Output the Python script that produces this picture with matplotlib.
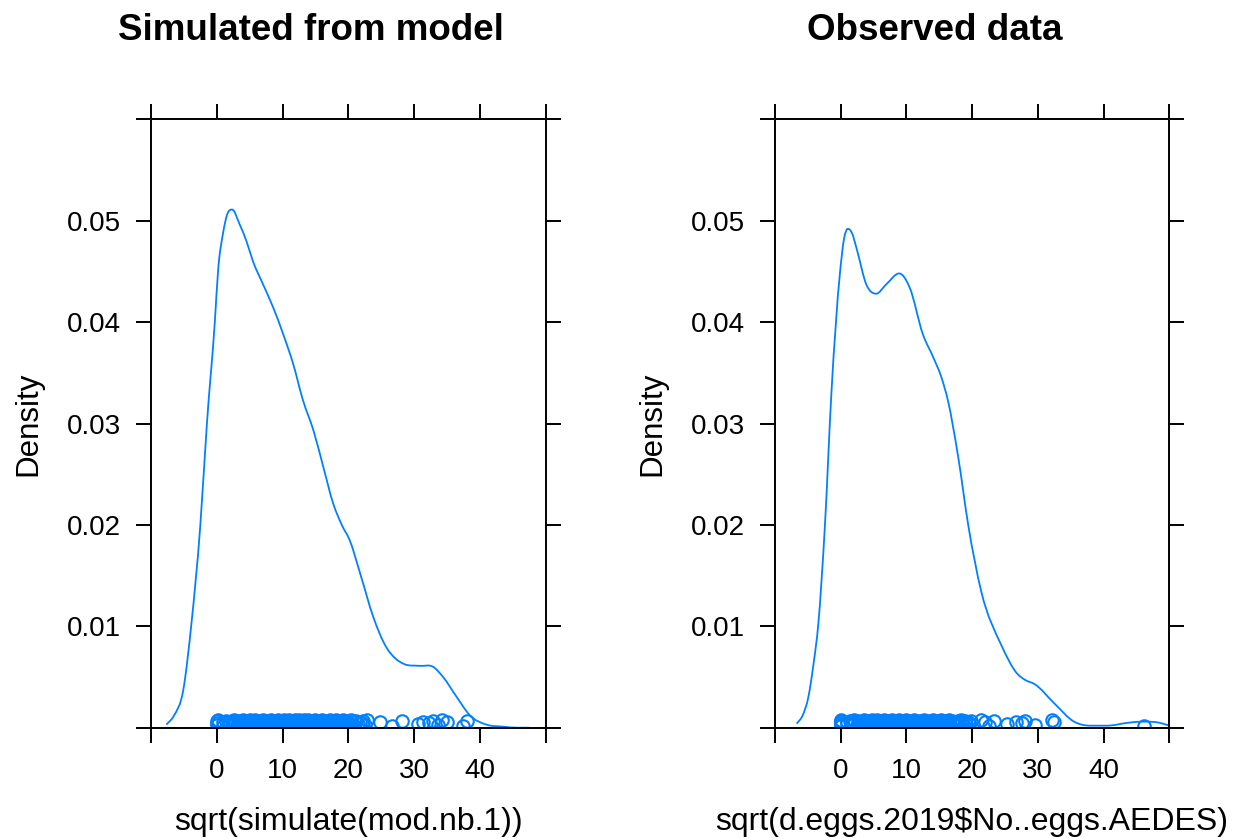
import matplotlib
matplotlib.use("Agg")
import matplotlib.pyplot as plt
from matplotlib.path import Path
from matplotlib.patches import PathPatch

plt.rcParams["font.family"] = ["Liberation Sans", "DejaVu Sans"]

# ---------------- data ----------------
sim_curve_x = [-7.66, -6.5, -5.1, -3.85, -2.5, -1.5, -0.3, 0.2, 0.96, 1.57,
               2.33, 3.5, 4.5, 5.5, 7.05, 8.6, 10.1, 11.6, 13.1, 14.7, 16.2, 17.7,
               19.0, 20.2, 21.8, 23.8, 25.8, 27.2, 28.4, 30.9, 32.9, 34.4, 36.5,
               38.5, 41.0, 43.6, 45.6, 47.5]
sim_curve_y = [0.0003, 0.0012, 0.0037, 0.0103, 0.0200, 0.0300, 0.0400, 0.0451,
               0.0488, 0.0506, 0.0511, 0.0496, 0.0480, 0.0460, 0.0437, 0.0414, 0.0388,
               0.0359, 0.0323, 0.0293, 0.0257, 0.0221, 0.0200, 0.0185, 0.0152, 0.0109,
               0.0079, 0.0068, 0.0063, 0.0061, 0.0060, 0.0050, 0.0030, 0.0012, 0.0003,
               0.0001, 0.0, 0.0]

obs_curve_x = [-6.7, -5.8, -4.9, -4.2, -3.4, -2.4, -1.4, -0.15, 0.5, 1.1, 1.7, 2.4,
               3.9, 5.4, 6.9, 8.9, 10.5, 12.5, 14.1, 15.3, 16.3, 17.9, 19.4, 21.4,
               24.4, 26.9, 28.1, 29.5, 32.5, 35.5, 38.0, 40.5, 43.9, 46.1, 48.4, 50.0]
obs_curve_y = [0.0004, 0.0012, 0.0031, 0.0060, 0.0103, 0.0200, 0.0332, 0.0446, 0.0482,
               0.0492, 0.0488, 0.0473, 0.0437, 0.0428, 0.0437, 0.0448, 0.0434, 0.0388,
               0.0365, 0.0346, 0.0323, 0.0266, 0.0200, 0.0134, 0.0082, 0.0053, 0.0047,
               0.0043, 0.0024, 0.0006, 0.0002, 0.0002, 0.0005, 0.0006, 0.0005, 0.0002]

sim_rug_x = [0, 0, 0, 0.2, 1, 1, 1.41, 1.73, 2, 2, 2.24, 2.45, 2.65, 2.83, 3, 3.16, 3.32,
             3.46, 3.61, 3.74, 3.87, 4, 4.12, 4.24, 4.36, 4.47, 4.58, 4.69, 4.8, 4.9, 5,
             5.1, 5.2, 5.29, 5.39, 5.48, 5.57, 5.66, 5.74, 5.83, 5.92, 6, 6.16, 6.32,
             6.48, 6.63, 6.78, 6.93, 7.07, 7.21, 7.35, 7.48, 7.62, 7.75, 7.87, 8, 8.12,
             8.25, 8.37, 8.49, 8.6, 8.72, 8.83, 8.94, 9.06, 9.17, 9.27, 9.38, 9.49,
             9.59, 9.7, 9.8, 9.9, 10, 10.1, 10.2, 10.3, 10.39, 10.49, 10.58, 10.68,
             10.77, 10.86, 10.95, 11.05, 11.14, 11.22, 11.31, 11.4, 11.49, 11.58, 11.66,
             11.75, 11.83, 11.92, 12, 12.08, 12.17, 12.25, 12.33, 12.41, 12.49, 12.57,
             12.65, 12.73, 12.81, 12.88, 12.96, 13.04, 13.11, 13.19, 13.27, 13.34,
             13.42, 13.49, 13.56, 13.64, 13.71, 13.78, 13.86, 13.93, 14, 14.07, 14.14,
             14.21, 14.35, 14.49, 14.63, 14.76, 14.9, 15.03, 15.17, 15.3, 15.43, 15.56,
             15.68, 15.81, 15.94, 16.06, 16.19, 16.31, 16.43, 16.55, 16.67, 16.79,
             16.91, 17.03, 17.15, 17.26, 17.38, 17.49, 17.61, 17.72, 17.83, 17.94,
             18.06, 18.17, 18.28, 18.38, 18.49, 18.6, 18.71, 18.81, 18.92, 19.03,
             19.13, 19.24, 19.34, 19.44, 19.55, 19.65, 19.75, 19.85, 20.1, 20.35, 20.6,
             20.85, 21.1, 21.4, 21.7, 22.0, 22.3, 22.6, 22.9, 24.8, 26.7, 28.2, 30.6,
             31.4, 32.2, 32.9, 33.6, 34.3, 35.0, 37.5, 38.0]

obs_rug_x = [0, 0, 0, 0, 0, 0, 0, 0, 1, 1, 1.41, 1.73, 2, 2.24, 2.45, 2.65, 2.83, 3,
             3.16, 3.32, 3.46, 3.61, 3.74, 3.87, 4, 4.12, 4.24, 4.36, 4.47, 4.58, 4.69,
             4.8, 4.9, 5, 5.1, 5.2, 5.29, 5.39, 5.48, 5.57, 5.66, 5.74, 5.83, 5.92, 6,
             6.16, 6.32, 6.48, 6.63, 6.78, 6.93, 7.07, 7.21, 7.35, 7.48, 7.62, 7.75,
             7.87, 8, 8.12, 8.25, 8.37, 8.49, 8.6, 8.72, 8.83, 8.94, 9.06, 9.17, 9.27,
             9.38, 9.49, 9.59, 9.7, 9.8, 9.9, 10, 10.1, 10.2, 10.3, 10.49, 10.68, 10.86,
             11.05, 11.22, 11.4, 11.58, 11.75, 11.92, 12.08, 12.25, 12.41, 12.57,
             12.73, 12.88, 13.04, 13.19, 13.34, 13.49, 13.64, 13.78, 13.93, 14.07,
             14.21, 14.35, 14.49, 14.63, 14.76, 14.9, 15.03, 15.17, 15.3, 15.43, 15.56,
             15.68, 15.81, 15.94, 16.06, 16.19, 16.31, 16.43, 16.55, 16.67, 16.91,
             17.15, 17.38, 17.61, 17.83, 18.06, 18.28, 18.49, 18.71, 18.92, 19.13,
             19.34, 19.55, 19.8, 20.1, 21.3, 22.0, 22.5, 23.3, 25.3, 26.6, 27.6, 28.1,
             29.6, 32.2, 32.5, 46.1]

x_ticks = [-10, 0, 10, 20, 30, 40, 50]
x_ticklabels = ["", "0", "10", "20", "30", "40", ""]
y_ticks = [0.0, 0.01, 0.02, 0.03, 0.04, 0.05, 0.06]
y_ticklabels = ["", "0.01", "0.02", "0.03", "0.04", "0.05", ""]

titles = ["Simulated from model", "Observed data"]
xlabels = ["sqrt(simulate(mod.nb.1))", "sqrt(d.eggs.2019$No..eggs.AEDES)"]
ylabel = "Density"

# vertical display offsets for the rug points (lattice-style jitter)
jitter = [0.0005, 0.0007, 0.0003, 0.0008, 0.0006, 0.0002, 0.0007, 0.0004, 0.0006]

BLUE = "#0080ff"
W, H = 1237, 838

fig = plt.figure(figsize=(W / 100, H / 100), dpi=100)


def px_axes(x0, x1, y0, y1):
    return [x0 / W, 1 - y1 / H, (x1 - x0) / W, (y1 - y0) / H]


def smooth_path(xs, ys):
    """Cubic Bezier path through the read points (Hermite tangents)."""
    n = len(xs)
    slopes = []
    for i in range(n):
        if i == 0:
            m = (ys[1] - ys[0]) / (xs[1] - xs[0])
        elif i == n - 1:
            m = (ys[-1] - ys[-2]) / (xs[-1] - xs[-2])
        else:
            d0 = (ys[i] - ys[i - 1]) / (xs[i] - xs[i - 1])
            d1 = (ys[i + 1] - ys[i]) / (xs[i + 1] - xs[i])
            if d0 * d1 <= 0:
                m = 0.0
            else:
                h0 = xs[i] - xs[i - 1]
                h1 = xs[i + 1] - xs[i]
                m = (h1 * d0 + h0 * d1) / (h0 + h1)
        slopes.append(m)
    verts = [(xs[0], ys[0])]
    codes = [Path.MOVETO]
    for i in range(n - 1):
        h = xs[i + 1] - xs[i]
        verts += [(xs[i] + h / 3, ys[i] + slopes[i] * h / 3),
                  (xs[i + 1] - h / 3, ys[i + 1] - slopes[i + 1] * h / 3),
                  (xs[i + 1], ys[i + 1])]
        codes += [Path.CURVE4] * 3
    return Path(verts, codes)


def panel(rect, cx, cy, rx):
    ax = fig.add_axes(rect)
    ax.add_patch(PathPatch(smooth_path(cx, cy), fill=False, edgecolor=BLUE, lw=1.3))
    ry = [jitter[i % len(jitter)] for i in range(len(rx))]
    ax.plot(rx, ry, ls="none", marker="o", ms=9, mfc="none", mec=BLUE, mew=1.5)
    ax.set_xlim(-10, 50)
    ax.set_ylim(0, 0.06)
    ax.set_xticks(x_ticks)
    ax.set_xticklabels(x_ticklabels)
    ax.set_yticks(y_ticks)
    ax.set_yticklabels(y_ticklabels)
    ax.tick_params(axis="both", direction="out", length=10.8, width=1.4,
                   top=True, right=True, labelsize=20, colors="black")
    ax.tick_params(axis="x", pad=11)
    ax.tick_params(axis="y", pad=10.8)
    for s in ax.spines.values():
        s.set_linewidth(1.4)
    return ax


ax1 = panel(px_axes(151, 545.7, 119.3, 727.7), sim_curve_x, sim_curve_y, sim_rug_x)
ax2 = panel(px_axes(775, 1169.3, 119.3, 727.7), obs_curve_x, obs_curve_y, obs_rug_x)

fig.text(311 / W, 1 - 30 / H, titles[0], ha="center", va="center",
         fontsize=26.5, fontweight="bold")
fig.text(935 / W, 1 - 30 / H, titles[1], ha="center", va="center",
         fontsize=26.5, fontweight="bold")

fig.text(348 / W, 1 - 822 / H, xlabels[0], ha="center", va="center", fontsize=23)
fig.text(972 / W, 1 - 822 / H, xlabels[1], ha="center", va="center", fontsize=23)

fig.text(28 / W, 1 - 424 / H, ylabel, ha="center", va="center", rotation=90, fontsize=22.5)
fig.text(652 / W, 1 - 424 / H, ylabel, ha="center", va="center", rotation=90, fontsize=22.5)

fig.savefig("out.png", dpi=100)
